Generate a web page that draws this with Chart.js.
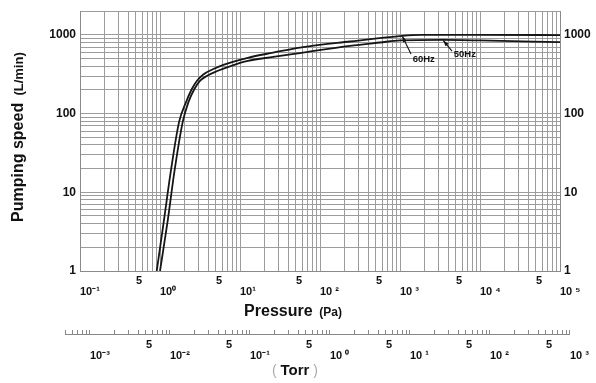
<!DOCTYPE html>
<html><head><meta charset="utf-8">
<script src="https://cdn.jsdelivr.net/npm/chart.js@4"></script>
<style>html,body{margin:0;padding:0;background:#fff}canvas{display:block}</style>
</head><body>
<canvas id="c" width="596" height="383"></canvas>
<script>
// ---- data ----
const SERIES_NAMES = ['60Hz', '50Hz'];
const PRESSURE_60HZ = [0.91, 1.12, 1.36, 1.73, 2.11, 2.49, 2.87, 3.48, 4.64, 6.2, 12.5, 26, 56, 237, 1000, 1800, 10000, 100000];
const SPEED_60HZ    = [1,    4.4,  18,   78,   139,  204,  258,  314,  368,  416, 512,  595, 690, 824, 965, 1000, 1000, 995];
const PRESSURE_50HZ = [1.0, 1.25, 1.51, 1.92, 2.26, 2.68, 3.16, 3.83, 5.1, 7.8, 12.5, 26,  56,  237, 562, 1000, 3400, 10000, 100000];
const SPEED_50HZ    = [1,   4.4,  18,   78,   139,  204,  260,  300,  345, 405, 467,  525, 588, 726, 800, 850,  863,  850,   808];

const PA_MIN = 0.1, PA_MAX = 1e5;
const SPEED_MIN = 1, SPEED_MAX = 2000;
const TORR_MIN = 5e-4, TORR_MAX = 1e3;
const PA_PER_TORR = 133.322;

const PA_DECADE_TICKS  = [0.1, 1, 10, 100, 1000, 10000, 100000];
const PA_DECADE_LABELS = ['10\u207B\u00B9', '10\u2070', '10\u00B9', '10 \u00B2', '10 \u00B3', '10 \u2074', '10 \u2075'];
const PA_FIVE_TICKS    = [0.5, 5, 50, 500, 5000, 50000];
const TORR_DECADE_TICKS  = [0.001, 0.01, 0.1, 1, 10, 100, 1000];
const TORR_DECADE_LABELS = ['10\u207B\u00B3', '10\u207B\u00B2', '10\u207B\u00B9', '10 \u2070', '10 \u00B9', '10 \u00B2', '10 \u00B3'];
const TORR_FIVE_TICKS    = [0.005, 0.05, 0.5, 5, 50, 500];
const SPEED_LABEL_TICKS = [1, 10, 100, 1000];
const SPEED_LABELS      = ['1', '10', '100', '1000'];

// ---- helpers ----
const FONT = "'Liberation Sans', Arial, Helvetica, sans-serif";
function logTicks(min, max) {
  const out = [];
  let e = Math.floor(Math.log10(min) + 1e-9);
  for (let guard = 0; guard < 40; e++, guard++) {
    for (let m = 1; m <= 9; m++) {
      const v = parseFloat((m * Math.pow(10, e)).toPrecision(6));
      if (v < min * (1 - 1e-9)) continue;
      if (v > max * (1 + 1e-9)) return out;
      out.push(v);
    }
  }
  return out;
}
function near(a, b) { return Math.abs(a - b) <= Math.abs(b) * 1e-6; }
function findLabel(v, keys, labels) {
  for (let i = 0; i < keys.length; i++) if (near(v, keys[i])) return labels ? labels[i] : true;
  return null;
}
function xLabel(decKeys, decLabels, fiveKeys) {
  return function (v) {
    const d = findLabel(v, decKeys, decLabels);
    if (d) return ['', d];
    if (findLabel(v, fiveKeys)) return ['5', ''];
    return '';
  };
}
function yLabel(v) { return findLabel(v, SPEED_LABEL_TICKS, SPEED_LABELS) || ''; }
function pts(xs, ys) { return xs.map((x, i) => ({ x: x, y: ys[i] })); }

const tickFont = { family: FONT, size: 11, weight: 'bold', lineHeight: 0.95 };
const yFont = { family: FONT, size: 12, weight: 'bold' };
const GRID = '#9c9c9c';

// Torr axis is laid over the same pressure positions as the Pa axis
const torrAlign = {
  id: 'torrAlign',
  afterLayout(chart) {
    const xs = chart.scales.x, t = chart.scales.x2;
    t.left = xs.getPixelForValue(TORR_MIN * PA_PER_TORR);
    t.right = xs.getPixelForValue(TORR_MAX * PA_PER_TORR);
    t.width = t.right - t.left;
    t.configure();
  }
};

function drawRuns(ctx, runs, cx, y) {
  let total = 0;
  runs.forEach(r => { ctx.font = r.f; r.w = ctx.measureText(r.t).width; total += r.w; });
  let x = cx - total / 2;
  ctx.textAlign = 'left';
  ctx.textBaseline = 'alphabetic';
  runs.forEach(r => { ctx.font = r.f; ctx.fillStyle = r.c || '#111'; ctx.fillText(r.t, x, y); x += r.w; });
}

const titles = {
  id: 'titles',
  afterDraw(chart) {
    const ctx = chart.ctx, a = chart.chartArea;
    ctx.save();
    ctx.save();
    ctx.translate(23, (a.top + a.bottom) / 2 - 4);
    ctx.rotate(-Math.PI / 2);
    drawRuns(ctx, [{ t: 'Pumping speed', f: 'bold 16px ' + FONT }, { t: '  (L/min)', f: 'bold 13px ' + FONT }], 0, 0);
    ctx.restore();
    drawRuns(ctx, [{ t: 'Pressure', f: 'bold 16px ' + FONT }, { t: '  (Pa)', f: 'bold 12px ' + FONT }], (a.left + a.right) / 2 - 27, a.bottom + 45);
    drawRuns(ctx, [{ t: '( ', f: '14px ' + FONT, c: '#aaa' }, { t: 'Torr', f: 'bold 15px ' + FONT }, { t: ' )', f: '14px ' + FONT, c: '#aaa' }], (a.left + a.right) / 2 - 25, a.bottom + 104);
    ctx.restore();
  }
};

// frequency callouts placed in data coordinates
const CALLOUTS = [
  { text: SERIES_NAMES[0], from: [1069, 960], to: [1372, 571], label: [1440, 490] },
  { text: SERIES_NAMES[1], from: [3470, 850], to: [4470, 623], label: [4700, 565] }
];
const callouts = {
  id: 'callouts',
  afterDatasetsDraw(chart) {
    const ctx = chart.ctx, xs = chart.scales.x, ys = chart.scales.y;
    ctx.save();
    CALLOUTS.forEach(c => {
      const x1 = xs.getPixelForValue(c.from[0]), y1 = ys.getPixelForValue(c.from[1]);
      const x2 = xs.getPixelForValue(c.to[0]), y2 = ys.getPixelForValue(c.to[1]);
      ctx.strokeStyle = '#111'; ctx.lineWidth = 1.1;
      ctx.beginPath(); ctx.moveTo(x1, y1); ctx.lineTo(x2, y2); ctx.stroke();
      const ang = Math.atan2(y1 - y2, x1 - x2);
      ctx.fillStyle = '#111';
      ctx.beginPath();
      ctx.moveTo(x1, y1);
      ctx.lineTo(x1 - 6 * Math.cos(ang) + 2 * Math.sin(ang), y1 - 6 * Math.sin(ang) - 2 * Math.cos(ang));
      ctx.lineTo(x1 - 6 * Math.cos(ang) - 2 * Math.sin(ang), y1 - 6 * Math.sin(ang) + 2 * Math.cos(ang));
      ctx.closePath(); ctx.fill();
      ctx.font = 'bold 9.5px ' + FONT;
      ctx.textAlign = 'left'; ctx.textBaseline = 'middle';
      ctx.fillText(c.text, xs.getPixelForValue(c.label[0]), ys.getPixelForValue(c.label[1]));
    });
    ctx.restore();
  }
};

const lineStyle = { borderColor: '#161616', borderWidth: 1.8, pointRadius: 0, fill: false, cubicInterpolationMode: 'monotone', showLine: true };

new Chart(document.getElementById('c'), {
  type: 'line',
  data: {
    datasets: [
      Object.assign({ label: SERIES_NAMES[0], data: pts(PRESSURE_60HZ, SPEED_60HZ) }, lineStyle),
      Object.assign({ label: SERIES_NAMES[1], data: pts(PRESSURE_50HZ, SPEED_50HZ) }, lineStyle)
    ]
  },
  options: {
    responsive: false,
    animation: false,
    devicePixelRatio: 1,
    layout: { padding: { top: 7, left: 0, right: 0, bottom: 0 } },
    plugins: { legend: { display: false }, tooltip: { enabled: false } },
    scales: {
      x: {
        type: 'logarithmic', position: 'bottom', weight: 0, min: PA_MIN, max: PA_MAX,
        afterBuildTicks: s => { s.ticks = logTicks(PA_MIN, PA_MAX).map(v => ({ value: v })); },
        afterFit: s => { s.height = 63; },
        grid: { color: GRID, lineWidth: 1, drawTicks: false },
        border: { color: '#8a8a8a' },
        ticks: { autoSkip: false, minRotation: 0, maxRotation: 0, align: 'start', padding: 5, color: '#111', font: tickFont,
                 callback: xLabel(PA_DECADE_TICKS, PA_DECADE_LABELS, PA_FIVE_TICKS) }
      },
      x2: {
        type: 'logarithmic', position: 'bottom', weight: 1, min: TORR_MIN, max: TORR_MAX,
        afterBuildTicks: s => { s.ticks = logTicks(TORR_MIN, TORR_MAX).map(v => ({ value: v })); },
        afterFit: s => { s.height = 49; },
        grid: { drawOnChartArea: false, drawTicks: true, tickLength: -4, color: '#888', lineWidth: 1 },
        border: { color: '#888' },
        ticks: { autoSkip: false, minRotation: 0, maxRotation: 0, align: 'start', padding: 10, color: '#111', font: tickFont,
                 callback: xLabel(TORR_DECADE_TICKS, TORR_DECADE_LABELS, TORR_FIVE_TICKS) }
      },
      y: {
        type: 'logarithmic', position: 'left', min: SPEED_MIN, max: SPEED_MAX,
        afterBuildTicks: s => { s.ticks = logTicks(SPEED_MIN, SPEED_MAX).map(v => ({ value: v })); },
        afterFit: s => { s.width = 80; },
        grid: { color: GRID, lineWidth: 1, drawTicks: false },
        border: { color: '#8a8a8a' },
        ticks: { autoSkip: false, padding: 4, color: '#111', font: yFont, callback: yLabel }
      },
      y2: {
        type: 'logarithmic', position: 'right', min: SPEED_MIN, max: SPEED_MAX,
        afterBuildTicks: s => { s.ticks = SPEED_LABEL_TICKS.map(v => ({ value: v })); },
        afterFit: s => { s.width = 36; },
        grid: { display: false, drawTicks: false },
        border: { display: true, color: '#8a8a8a' },
        ticks: { autoSkip: false, padding: 4, color: '#111', font: yFont, callback: yLabel }
      }
    }
  },
  plugins: [torrAlign, titles, callouts]
});
</script>
</body></html>
